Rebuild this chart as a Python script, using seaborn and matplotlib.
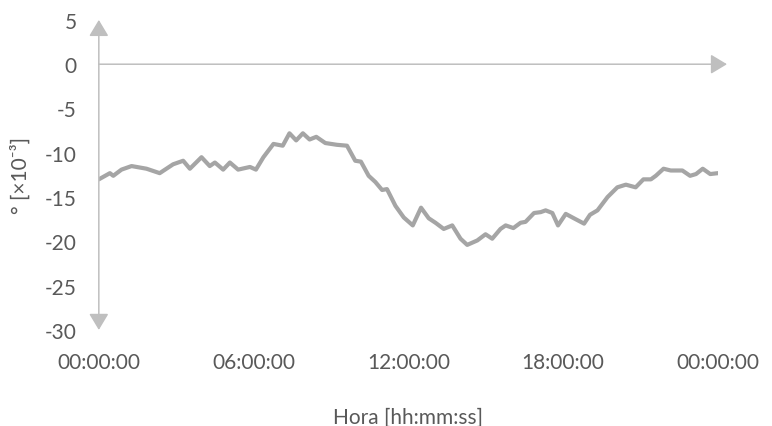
import matplotlib
matplotlib.use("Agg")
import matplotlib.pyplot as plt
import seaborn as sns
import pandas as pd

# hours since midnight and angle values (x10^-3 degrees)
hours = [0.0, 0.43, 0.56, 0.88, 1.27, 1.85, 2.36, 2.88, 3.27, 3.53, 3.98, 4.30,
         4.50, 4.82, 5.08, 5.40, 5.86, 6.09, 6.38, 6.77, 7.13, 7.39, 7.65, 7.91,
         8.17, 8.43, 8.78, 9.23, 9.62, 9.94, 10.16, 10.46, 10.72, 10.98, 11.17,
         11.50, 11.82, 12.17, 12.49, 12.79, 13.05, 13.37, 13.70, 14.02, 14.28,
         14.67, 14.99, 15.25, 15.57, 15.77, 16.07, 16.35, 16.54, 16.87, 17.13,
         17.32, 17.58, 17.80, 18.10, 18.42, 18.81, 19.04, 19.33, 19.72, 20.10,
         20.43, 20.81, 21.11, 21.40, 21.59, 21.89, 22.17, 22.62, 22.92, 23.15,
         23.41, 23.70, 24.0]
angle = [-13.0, -12.3, -12.6, -11.9, -11.5, -11.8, -12.3, -11.3, -10.9, -11.8,
         -10.5, -11.5, -11.1, -11.9, -11.1, -11.9, -11.6, -11.9, -10.5, -9.0,
         -9.2, -7.8, -8.6, -7.8, -8.5, -8.2, -8.9, -9.1, -9.2, -10.9, -11.0,
         -12.6, -13.3, -14.2, -14.1, -16.0, -17.3, -18.2, -16.2, -17.4, -17.9,
         -18.6, -18.2, -19.7, -20.4, -19.9, -19.2, -19.7, -18.6, -18.2, -18.5,
         -17.9, -17.8, -16.8, -16.7, -16.5, -16.8, -18.2, -16.9, -17.4, -18.0,
         -17.0, -16.5, -15.0, -13.9, -13.6, -13.9, -13.0, -13.0, -12.6, -11.8,
         -12.0, -12.0, -12.6, -12.4, -11.8, -12.4, -12.3]

tick_hours = [0, 6, 12, 18, 24]
tick_labels = ["00:00:00", "06:00:00", "12:00:00", "18:00:00", "00:00:00"]
y_ticks = [5, 0, -5, -10, -15, -20, -25, -30]

sns.set_style("white")
plt.rcParams['font.family'] = ['Lato', 'DejaVu Sans']
plt.rcParams['axes.unicode_minus'] = False

df = pd.DataFrame({"hora": hours, "angulo": angle})

fig = plt.figure(figsize=(7.72, 4.27), dpi=100)
ax = fig.add_axes([0.128, 0.225, 0.802, 0.726])

sns.lineplot(data=df, x="hora", y="angulo", ax=ax, color="#A5A5A5", lw=3,
             solid_capstyle="round", solid_joinstyle="round")

ax.set_xlim(0, 24)
ax.set_ylim(-30, 5)
for s in ax.spines.values():
    s.set_visible(False)

# axis lines with arrow heads
axis_col = "#BFBFBF"
ax.annotate("", xy=(0, 5), xytext=(0, -30), annotation_clip=False,
            arrowprops=dict(arrowstyle="<|-|>,head_length=0.5,head_width=0.3",
                            mutation_scale=20, color=axis_col, lw=1.1,
                            shrinkA=0, shrinkB=0))
ax.annotate("", xy=(24.35, 0), xytext=(0, 0), annotation_clip=False,
            arrowprops=dict(arrowstyle="-|>,head_length=0.5,head_width=0.3",
                            mutation_scale=20, color=axis_col, lw=1.1,
                            shrinkA=0, shrinkB=0))

ax.set_xticks(tick_hours)
ax.set_xticklabels(tick_labels)
ax.set_yticks(y_ticks)
ax.tick_params(axis="both", length=0, labelsize=15, labelcolor="#595959")
ax.tick_params(axis="y", pad=16)
ax.tick_params(axis="x", pad=16)

ax.set_xlabel("Hora [hh:mm:ss]", fontsize=15, color="#595959", labelpad=25)
ax.set_ylabel("° [×10⁻³]", fontsize=15, color="#595959", labelpad=10)

fig.savefig("out.png", dpi=100)
